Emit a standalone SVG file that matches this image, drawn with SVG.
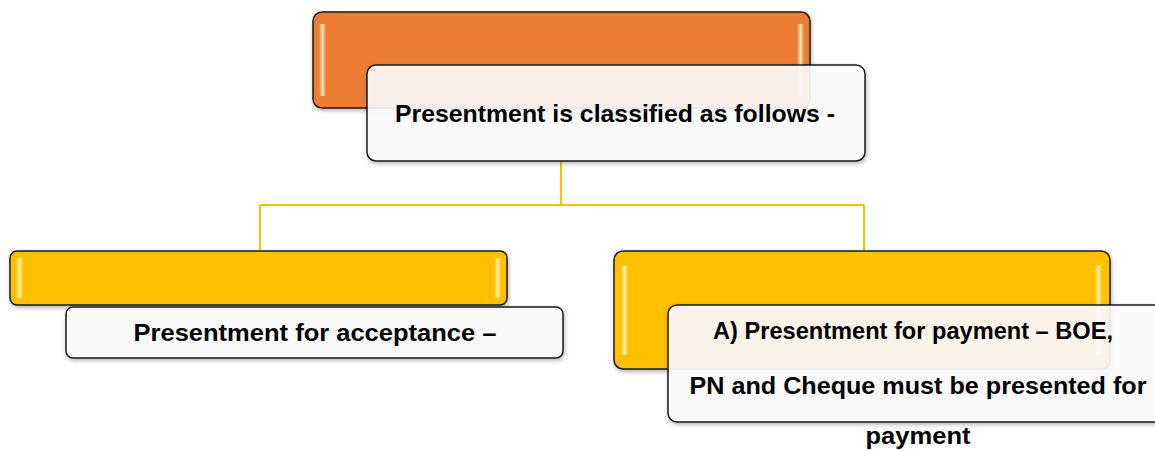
<svg xmlns="http://www.w3.org/2000/svg" width="1155" height="451" viewBox="0 0 1155 451">
<defs>
<filter id="sh" x="-5%" y="-10%" width="115%" height="130%">
<feDropShadow dx="1" dy="2" stdDeviation="2" flood-color="#000" flood-opacity="0.3"/>
</filter>
<linearGradient id="hl" x1="0" y1="0" x2="1" y2="0">
<stop offset="0" stop-color="#fff" stop-opacity="0"/>
<stop offset="0.5" stop-color="#fff8c0" stop-opacity="0.85"/>
<stop offset="1" stop-color="#fff" stop-opacity="0"/>
</linearGradient>
</defs>
<style>
.o{fill:#ED7D31;stroke:#1a1a1a;stroke-width:1.5;filter:url(#sh)}
.y{fill:#FFC000;stroke:#1a1a1a;stroke-width:1.5;filter:url(#sh)}
.w{fill:#FCFCFC;fill-opacity:0.9;stroke:#1a1a1a;stroke-width:1.5;filter:url(#sh)}
.h{fill:url(#hl)}
.t{font-family:"Liberation Sans",Arial,sans-serif;font-weight:bold;font-size:24px;fill:#000;text-anchor:middle}
.c{fill:none;stroke:#FFC000;stroke-width:2}
</style>
<g id="connectors">
<path class="c" d="M561 160 V205 M260 205 H864 M260 205 V251 M864 205 V251"/>
</g>
<g id="top">
<rect class="o" x="313" y="12" width="497" height="96" rx="9"/>
<rect class="h" x="319" y="24" width="7" height="72" rx="2"/>
<rect class="h" x="797" y="24" width="7" height="72" rx="2"/>
<rect class="w" x="367" y="65" width="498" height="96" rx="9"/>
<text class="t" x="615" y="122" textLength="440" lengthAdjust="spacingAndGlyphs">Presentment is classified as follows -</text>
</g>
<g id="left">
<rect class="y" x="10" y="251" width="497" height="54" rx="7"/>
<rect class="h" x="16" y="258" width="7" height="40" rx="2"/>
<rect class="h" x="494" y="258" width="7" height="40" rx="2"/>
<rect class="w" x="66" y="307" width="497" height="51" rx="7"/>
<text class="t" x="315" y="341" textLength="363" lengthAdjust="spacingAndGlyphs">Presentment for acceptance –</text>
</g>
<g id="right">
<rect class="y" x="614" y="251" width="496" height="118" rx="9"/>
<rect class="h" x="621" y="265" width="7" height="90" rx="2"/>
<rect class="h" x="1095" y="265" width="7" height="90" rx="2"/>
<rect class="w" x="668" y="305" width="500" height="117" rx="9"/>
<text class="t" x="913" y="339" textLength="400" lengthAdjust="spacingAndGlyphs">A) Presentment for payment – BOE,</text>
<text class="t" x="918" y="394" textLength="457" lengthAdjust="spacingAndGlyphs">PN and Cheque must be presented for</text>
<text class="t" x="918" y="444" textLength="105" lengthAdjust="spacingAndGlyphs">payment</text>
</g>
</svg>
